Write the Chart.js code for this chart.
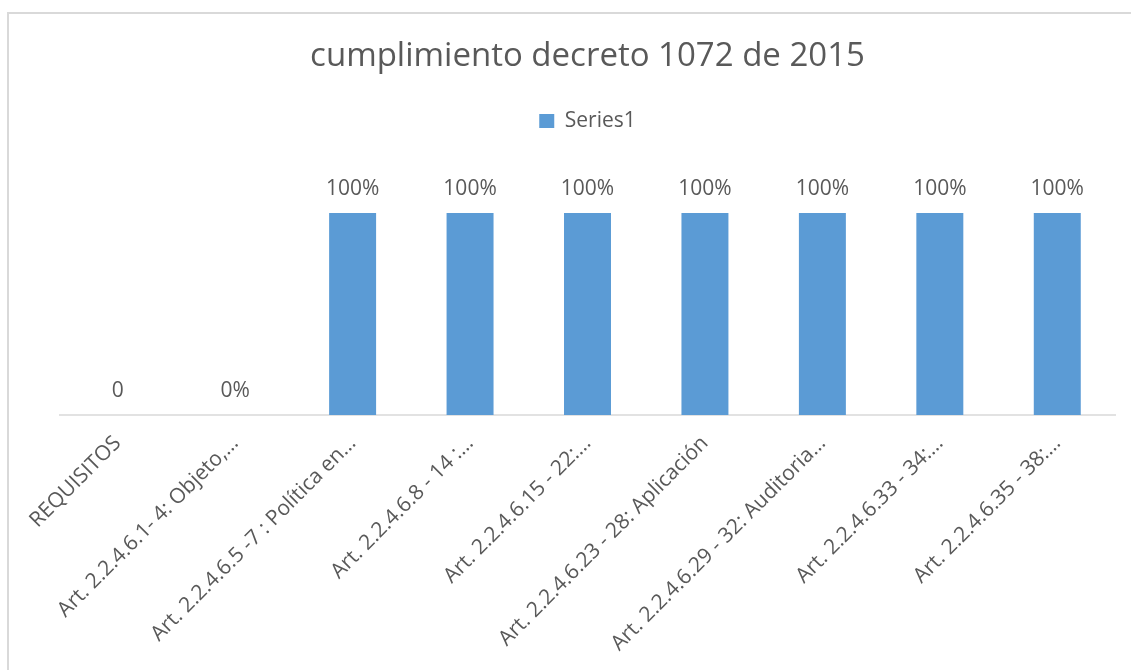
<!DOCTYPE html>
<html lang="es">
<head>
<meta charset="UTF-8">
<title>cumplimiento decreto 1072 de 2015</title>
<script src="https://cdn.jsdelivr.net/npm/chart.js"></script>
<style>
  html, body { margin: 0; padding: 0; background: #fff; }
  #wrap { position: absolute; left: 0; top: 0; width: 1131px; height: 670px; }
  #frame { position: absolute; left: 7px; top: 12px; width: 1200px; height: 700px;
           border: 2px solid #d9d9d9; box-sizing: border-box; pointer-events: none; }
</style>
</head>
<body>
<div id="wrap">
  <canvas id="chart" width="1131" height="670"></canvas>
  <div id="frame"></div>
</div>
<script>
// chart data
const categories = [
  'REQUISITOS',
  'Art. 2.2.4.6.1- 4: Objeto,…',
  'Art. 2.2.4.6.5 -7 : Política en…',
  'Art. 2.2.4.6.8 - 14 :…',
  'Art. 2.2.4.6.15 - 22:…',
  'Art. 2.2.4.6.23 - 28: Aplicación',
  'Art. 2.2.4.6.29 - 32: Auditoria…',
  'Art. 2.2.4.6.33 - 34:…',
  'Art. 2.2.4.6.35 - 38:…'
];
const series1 = [0, 0, 1, 1, 1, 1, 1, 1, 1];
const series1Labels = ['0', '0%', '100%', '100%', '100%', '100%', '100%', '100%', '100%'];

const textColor = '#595959';
const fontFamily = '"Open Sans", "Noto Sans", sans-serif';

// data labels above each bar
const barLabels = {
  id: 'barLabels',
  afterDatasetsDraw(chart) {
    const ctx = chart.ctx;
    const meta = chart.getDatasetMeta(0);
    ctx.save();
    ctx.font = '21px ' + fontFamily;
    ctx.fillStyle = textColor;
    ctx.textAlign = 'center';
    ctx.textBaseline = 'middle';
    meta.data.forEach((bar, i) => {
      ctx.fillText(series1Labels[i], bar.x, bar.y - 24);
    });
    ctx.restore();
  }
};

// baseline of the category axis
const baseLine = {
  id: 'baseLine',
  beforeDatasetsDraw(chart) {
    const { ctx, chartArea } = chart;
    const y = chart.scales.y.getPixelForValue(0);
    ctx.save();
    ctx.strokeStyle = '#d9d9d9';
    ctx.lineWidth = 1.5;
    ctx.beginPath();
    ctx.moveTo(chartArea.left, y);
    ctx.lineTo(chartArea.right, y);
    ctx.stroke();
    ctx.restore();
  }
};

new Chart(document.getElementById('chart'), {
  type: 'bar',
  data: {
    labels: categories,
    datasets: [{
      label: 'Series1',
      data: series1,
      backgroundColor: '#5b9bd5',
      barPercentage: 0.4,
      categoryPercentage: 1
    }]
  },
  options: {
    responsive: false,
    animation: false,
    layout: { padding: { left: 59, right: 15, top: 0, bottom: 0 } },
    plugins: {
      title: {
        display: true,
        text: 'cumplimiento decreto 1072 de 2015',
        color: textColor,
        font: { family: fontFamily, size: 33, weight: 'normal' },
        padding: { top: 37, bottom: 24 }
      },
      legend: {
        display: true,
        labels: {
          color: textColor,
          font: { family: fontFamily, size: 21 },
          boxWidth: 15,
          boxHeight: 14,
          padding: 10
        }
      },
      tooltip: { enabled: false }
    },
    scales: {
      x: {
        grid: { display: false, drawTicks: false },
        border: { display: false },
        ticks: {
          color: textColor,
          font: { family: fontFamily, size: 21 },
          autoSkip: false,
          maxRotation: 45,
          minRotation: 45,
          padding: 16
        },
        afterFit(scale) {
          scale.height = 255;
          scale.paddingLeft = 0;
          scale.paddingRight = 0;
        }
      },
      y: {
        display: false,
        min: 0,
        max: 1.354
      }
    }
  },
  plugins: [barLabels, baseLine]
});
</script>
</body>
</html>
